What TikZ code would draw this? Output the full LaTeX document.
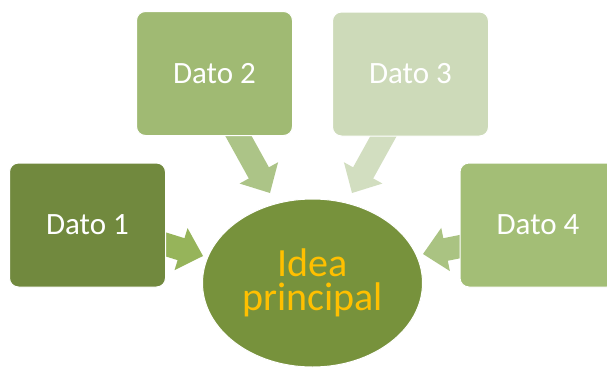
\documentclass[tikz,border=0pt]{standalone}
\usepackage{fontspec}
\setmainfont{Carlito}
\usetikzlibrary{calc,shapes.geometric}
\definecolor{boxA}{RGB}{113,137,62}
\definecolor{boxB}{RGB}{160,186,115}
\definecolor{boxC}{RGB}{205,218,185}
\definecolor{boxD}{RGB}{163,190,118}
\definecolor{arrA}{RGB}{150,180,90}
\definecolor{arrB}{RGB}{172,196,135}
\definecolor{arrC}{RGB}{210,222,192}
\definecolor{arrD}{RGB}{170,195,130}
\definecolor{mainC}{RGB}{119,146,60}
\definecolor{mainT}{RGB}{255,192,0}
\def\arrSW{11.5pt}
\def\arrHW{22pt}
\def\arrHL{23pt}
\newcommand\blockarrow[4]{%
  \coordinate (#4h) at ($(#3)!\arrHL!(#2)$);
  \fill[#1] ($(#2)!\arrSW!90:(#3)$) -- ($(#4h)!\arrSW!90:(#3)$) -- ($(#4h)!\arrHW!90:(#3)$) -- (#3)
    -- ($(#4h)!\arrHW!-90:(#3)$) -- ($(#4h)!\arrSW!-90:(#3)$) -- ($(#2)!\arrSW!-90:(#3)$) -- cycle;
}
\tikzset{
  databox/.style={rectangle, rounded corners=9pt, draw=white, line width=1pt,
    minimum width=156pt, minimum height=124pt, text=white,
    font=\fontsize{31}{34}\selectfont},
  mainbox/.style={ellipse, draw=white, line width=1pt, fill=mainC, text=mainT,
    minimum width=220pt, minimum height=168pt, inner sep=0pt, align=center,
    font=\fontsize{40}{34}\selectfont}
}
\begin{document}
\begin{tikzpicture}[x=1pt,y=-1pt]
\useasboundingbox (0,0) rectangle (607,367);
\clip (0,0) rectangle (607,367);
\fill[white] (0,0) rectangle (607,367);
% arrows (drawn first, boxes cover their tails)
\coordinate (a1s) at (158,242);
\coordinate (a1e) at (203,256);
\coordinate (a2s) at (234,128);
\coordinate (a2e) at (270,193);
\coordinate (a3s) at (388,128);
\coordinate (a3e) at (352,193);
\coordinate (a4s) at (468,245);
\coordinate (a4e) at (423,254);
\blockarrow{arrA}{a1s}{a1e}{a1}
\blockarrow{arrB}{a2s}{a2e}{a2}
\blockarrow{arrC}{a3s}{a3e}{a3}
\blockarrow{arrD}{a4s}{a4e}{a4}
% boxes
\node[databox, fill=boxA] (d1) at (87.5,225) {Dato 1};
\node[databox, fill=boxB] (d2) at (214.5,73.5) {Dato 2};
\node[databox, fill=boxC] (d3) at (410.5,74) {Dato 3};
\node[databox, fill=boxD] (d4) at (538,225) {Dato 4};
% main idea
\node[mainbox] (ip) at (312.5,283) {Idea\\principal};
\end{tikzpicture}
\end{document}
